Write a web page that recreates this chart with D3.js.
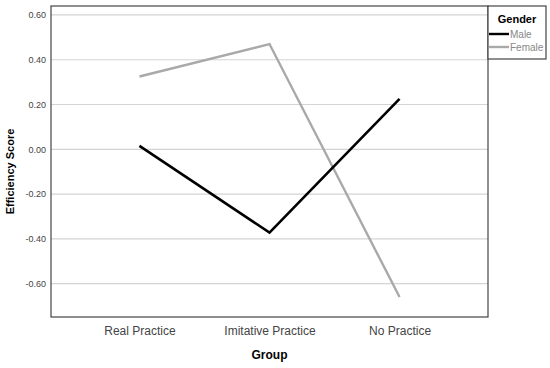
<!DOCTYPE html>
<html>
<head>
<meta charset="utf-8">
<script src="https://cdn.jsdelivr.net/npm/d3@7"></script>
<style>
  body { margin: 0; background: #fff; }
  text { font-family: "Liberation Sans", Arial, sans-serif; }
</style>
</head>
<body>
<div id="chart"></div>
<script>
// data
var groups = ["Real Practice", "Imitative Practice", "No Practice"];
var genders = ["Male", "Female"];
var maleScores = [0.015, -0.372, 0.225];
var femaleScores = [0.325, 0.47, -0.66];
var yTicks = [-0.6, -0.4, -0.2, 0.0, 0.2, 0.4, 0.6];

var colors = { Male: "#000000", Female: "#a9a9a9" };

var margin = {top: 6, right: 62, bottom: 51, left: 51},
    width = 550 - margin.left - margin.right,
    height = 368 - margin.top - margin.bottom;

var svg = d3.select("#chart")
  .append("svg")
    .attr("width", 550)
    .attr("height", 368)
  .append("g")
    .attr("transform", "translate(" + margin.left + "," + margin.top + ")");

var x = d3.scalePoint()
  .domain(groups)
  .range([0, width])
  .padding(0.68);

var y = d3.scaleLinear()
  .domain([-0.749, 0.64])
  .range([height, 0]);

// grid lines
svg.append("g")
  .selectAll("line")
  .data(yTicks)
  .enter()
  .append("line")
    .attr("x1", 0)
    .attr("x2", width)
    .attr("y1", function(d) { return y(d); })
    .attr("y2", function(d) { return y(d); })
    .attr("stroke", "#d4d4d4")
    .attr("stroke-width", 1.2);

// y axis labels
svg.append("g")
  .call(d3.axisLeft(y).tickValues(yTicks).tickSize(0).tickPadding(5)
    .tickFormat(function(d) { return d3.format(".2f")(d).replace("−", "-"); }))
  .call(function(g) { g.select(".domain").remove(); })
  .selectAll("text")
    .style("font-size", "9px")
    .style("font-family", "Liberation Sans, Arial, sans-serif")
    .attr("fill", "#444");

// x axis labels
svg.append("g")
  .attr("transform", "translate(0," + height + ")")
  .call(d3.axisBottom(x).tickSize(0).tickPadding(9))
  .call(function(g) { g.select(".domain").remove(); })
  .selectAll("text")
    .style("font-size", "12px")
    .style("font-family", "Liberation Sans, Arial, sans-serif")
    .attr("fill", "#444");

// frame
svg.append("rect")
  .attr("x", 0)
  .attr("y", 0)
  .attr("width", width)
  .attr("height", height)
  .attr("fill", "none")
  .attr("stroke", "#444")
  .attr("stroke-width", 1.2);

// lines
var series = [
  { name: "Female", values: femaleScores },
  { name: "Male", values: maleScores }
];

var line = d3.line()
  .x(function(d, i) { return x(groups[i]); })
  .y(function(d) { return y(d); });

svg.selectAll(".series")
  .data(series)
  .enter()
  .append("path")
    .attr("class", "series")
    .attr("d", function(d) { return line(d.values); })
    .attr("fill", "none")
    .attr("stroke", function(d) { return colors[d.name]; })
    .attr("stroke-width", function(d) { return d.name == "Male" ? 2.6 : 2.4; });

// axis titles
svg.append("text")
  .attr("transform", "translate(" + (width / 2) + "," + (height + 42) + ")")
  .style("text-anchor", "middle")
  .style("font-size", "12px")
  .style("font-weight", "bold")
  .text("Group");

svg.append("text")
  .attr("transform", "translate(" + (-37) + "," + (height / 2 + 10) + ") rotate(-90)")
  .style("text-anchor", "middle")
  .style("font-size", "11px")
  .style("font-weight", "bold")
  .text("Efficiency Score");

// legend
var legend = svg.append("g")
  .attr("transform", "translate(" + width + ",0)");

legend.append("rect")
  .attr("x", 0)
  .attr("y", 0)
  .attr("width", 58)
  .attr("height", 53)
  .attr("fill", "#fff")
  .attr("stroke", "#444")
  .attr("stroke-width", 1.2);

legend.append("text")
  .attr("x", 29)
  .attr("y", 17)
  .style("text-anchor", "middle")
  .style("font-size", "11px")
  .style("font-weight", "bold")
  .text("Gender");

var items = legend.selectAll(".item")
  .data(genders)
  .enter()
  .append("g")
    .attr("class", "item")
    .attr("transform", function(d, i) { return "translate(0," + (28 + i * 13) + ")"; });

items.append("line")
  .attr("x1", 1)
  .attr("x2", 21)
  .attr("y1", 0)
  .attr("y2", 0)
  .attr("stroke", function(d) { return colors[d]; })
  .attr("stroke-width", 2.4);

items.append("text")
  .attr("x", 22)
  .attr("y", 4)
  .style("font-size", "10px")
  .attr("fill", "#888")
  .text(function(d) { return d; });
</script>
</body>
</html>
